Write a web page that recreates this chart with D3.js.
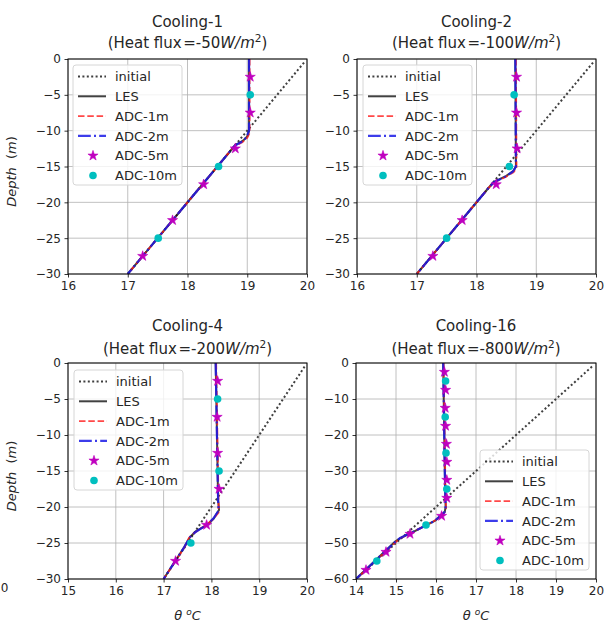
<!DOCTYPE html>
<html><head><meta charset="utf-8">
<script src="https://cdn.jsdelivr.net/npm/d3@7"></script>
<style>
body{margin:0;background:#fff}
svg{display:block}
text{font-family:"DejaVu Sans",sans-serif;fill:#262626}
</style>
</head><body>
<svg id="chart" width="605" height="625"></svg>
<script>
// ---------------- DATA ----------------
const panelNames = ["Cooling-1", "Cooling-2", "Cooling-4", "Cooling-16"];
const heatFlux = ["-50", "-100", "-200", "-800"];
const xDomains = [[16, 20], [16, 20], [15, 20], [14, 20]];
const yDomains = [[-30, 0], [-30, 0], [-30, 0], [-60, 0]];
const xTickValues = [[16, 17, 18, 19, 20], [16, 17, 18, 19, 20], [15, 16, 17, 18, 19, 20], [14, 15, 16, 17, 18, 19, 20]];
const yTickValues = [[0, -5, -10, -15, -20, -25, -30], [0, -5, -10, -15, -20, -25, -30], [0, -5, -10, -15, -20, -25, -30], [0, -10, -20, -30, -40, -50, -60]];
const legendNames = ["initial", "LES", "ADC-1m", "ADC-2m", "ADC-5m", "ADC-10m"];

// initial profiles
const initDepth = [[-0.5, -30], [-0.5, -30], [-0.5, -30], [-1, -60]];
const initTemp = [[19.95, 17.0], [19.95, 17.0], [19.95, 17.0], [19.9, 14.0]];

// LES profiles
const les1Depth = [0, -10, -10.8, -11.4, -12, -30];
const les1Temp = [19.03, 19.03, 19.0, 18.93, 18.8, 17.0];
const les2Depth = [0, -15, -15.6, -16.3, -17.1, -18, -30];
const les2Temp = [18.65, 18.66, 18.62, 18.5, 18.3, 18.2, 17.0];
const les3Depth = [0, -19, -20.4, -21.6, -22.5, -23.4, -24.2, -25.6, -30];
const les3Temp = [18.09, 18.14, 18.16, 18.05, 17.91, 17.67, 17.55, 17.43, 17.0];
const les4Depth = [0, -30, -40, -41.3, -43.8, -46.4, -48.7, -49.6, -60];
const les4Temp = [16.18, 16.22, 16.24, 16.22, 15.98, 15.52, 15.1, 14.98, 14.0];

// ADC-1m profiles
const adc1m1Depth = [0, -10.3, -11, -11.6, -12.2, -30];
const adc1m1Temp = [19.04, 19.04, 19.0, 18.92, 18.78, 17.0];
const adc1m2Depth = [0, -15.2, -15.8, -16.5, -17.3, -18.1, -30];
const adc1m2Temp = [18.66, 18.67, 18.62, 18.48, 18.28, 18.19, 17.0];
const adc1m3Depth = [0, -19.5, -20.8, -21.8, -22.6, -23.6, -24.3, -25.7, -30];
const adc1m3Temp = [18.1, 18.15, 18.15, 18.02, 17.86, 17.64, 17.53, 17.43, 17.0];
const adc1m4Depth = [0, -30, -40.5, -41.8, -44, -46.6, -48.8, -49.8, -60];
const adc1m4Temp = [16.19, 16.23, 16.25, 16.2, 15.94, 15.48, 15.08, 14.99, 14.0];

// ADC-2m profiles
const adc2m1Depth = [0, -10, -10.9, -11.5, -12.1, -30];
const adc2m1Temp = [19.03, 19.03, 18.99, 18.92, 18.79, 17.0];
const adc2m2Depth = [0, -15, -15.7, -16.4, -17.2, -18, -30];
const adc2m2Temp = [18.65, 18.66, 18.61, 18.49, 18.29, 18.2, 17.0];
const adc2m3Depth = [0, -19, -20.5, -21.6, -22.5, -23.5, -24.2, -25.6, -30];
const adc2m3Temp = [18.09, 18.14, 18.15, 18.04, 17.9, 17.66, 17.55, 17.43, 17.0];
const adc2m4Depth = [0, -30, -40, -41.5, -43.9, -46.5, -48.7, -49.7, -60];
const adc2m4Temp = [16.18, 16.22, 16.24, 16.21, 15.96, 15.5, 15.09, 14.98, 14.0];

// ADC-5m markers
const adc5mDepth30 = [-2.5, -7.5, -12.5, -17.5, -22.5, -27.5];
const adc5mDepth60 = [-2.5, -7.5, -12.5, -17.5, -22.5, -27.5, -32.5, -37.5, -42.5, -47.5, -52.5, -57.5];
const adc5m1Temp = [19.05, 19.05, 18.8, 18.27, 17.75, 17.25];
const adc5m2Temp = [18.67, 18.67, 18.68, 18.33, 17.76, 17.27];
const adc5m3Temp = [18.13, 18.12, 18.13, 18.16, 17.9, 17.25];
const adc5m4Temp = [16.21, 16.24, 16.23, 16.24, 16.26, 16.27, 16.27, 16.27, 16.14, 15.35, 14.75, 14.25];

// ADC-10m markers
const adc10mDepth30 = [-5, -15, -25];
const adc10mDepth60 = [-5, -15, -25, -35, -45, -55];
const adc10m1Temp = [19.05, 18.52, 17.51];
const adc10m2Temp = [18.63, 18.55, 17.5];
const adc10m3Temp = [18.13, 18.16, 17.57];
const adc10m4Temp = [16.24, 16.23, 16.25, 16.27, 15.75, 14.52];

// ---------------- LAYOUT ----------------
const panels = [
  {x0: 68, x1: 307, y0: 59, y1: 274, lg: [73, 65], ylab: true, xlab: false, t1: 26.5, t2: 47.5},
  {x0: 357, x1: 596, y0: 59, y1: 274, lg: [363, 65], ylab: false, xlab: false, t1: 26.5, t2: 47.5},
  {x0: 68, x1: 307, y0: 363, y1: 579, lg: [74, 370], ylab: true, xlab: true, t1: 330.5, t2: 354},
  {x0: 356, x1: 596, y0: 363, y1: 579, lg: [480, 450], ylab: false, xlab: true, t1: 330.5, t2: 354}
];
const lines = [
  [initDepth[0], initTemp[0], les1Depth, les1Temp, adc1m1Depth, adc1m1Temp, adc2m1Depth, adc2m1Temp, adc5mDepth30, adc5m1Temp, adc10mDepth30, adc10m1Temp],
  [initDepth[1], initTemp[1], les2Depth, les2Temp, adc1m2Depth, adc1m2Temp, adc2m2Depth, adc2m2Temp, adc5mDepth30, adc5m2Temp, adc10mDepth30, adc10m2Temp],
  [initDepth[2], initTemp[2], les3Depth, les3Temp, adc1m3Depth, adc1m3Temp, adc2m3Depth, adc2m3Temp, adc5mDepth30, adc5m3Temp, adc10mDepth30, adc10m3Temp],
  [initDepth[3], initTemp[3], les4Depth, les4Temp, adc1m4Depth, adc1m4Temp, adc2m4Depth, adc2m4Temp, adc5mDepth60, adc5m4Temp, adc10mDepth60, adc10m4Temp]
];

const styles = {
  initial: {stroke: "#2a2a2a", width: 2, dash: "2,2.4", opacity: 0.9},
  les: {stroke: "#111", width: 2, dash: null, opacity: 0.8},
  adc1: {stroke: "#ff1a1a", width: 1.8, dash: "6.5,2.8", opacity: 0.8},
  adc2: {stroke: "#1a1ae6", width: 2.2, dash: "12.8,3.2,2,3.2", opacity: 0.85}
};
const starColor = "#bf00bf", circColor = "#00bfbf";
const fmt = v => (v < 0 ? "\u2212" + Math.abs(v) : String(v));

const svg = d3.select("#chart");

panels.forEach((p, i) => {
  const x = d3.scaleLinear().domain(xDomains[i]).range([p.x0, p.x1]);
  const y = d3.scaleLinear().domain(yDomains[i]).range([p.y1, p.y0]);
  const g = svg.append("g");
  const clipId = "clip" + i;
  svg.append("clipPath").attr("id", clipId).append("rect")
    .attr("x", p.x0).attr("y", p.y0).attr("width", p.x1 - p.x0).attr("height", p.y1 - p.y0);

  // grid
  g.selectAll(".gx").data(xTickValues[i]).enter().append("line")
    .attr("x1", d => x(d)).attr("x2", d => x(d)).attr("y1", p.y0).attr("y2", p.y1)
    .attr("stroke", "#b0b0b0").attr("stroke-width", 0.8);
  g.selectAll(".gy").data(yTickValues[i]).enter().append("line")
    .attr("y1", d => y(d)).attr("y2", d => y(d)).attr("x1", p.x0).attr("x2", p.x1)
    .attr("stroke", "#b0b0b0").attr("stroke-width", 0.8);

  const L = lines[i];
  const pg = g.append("g").attr("clip-path", `url(#${clipId})`);
  const lineGen = d3.line().x(d => x(d[1])).y(d => y(d[0]));
  const st = [styles.initial, styles.les, styles.adc1, styles.adc2];
  for (let k = 0; k < 4; k++) {
    const dep = L[2 * k], tmp = L[2 * k + 1];
    const pts = dep.map((d, j) => [d, tmp[j]]);
    pg.append("path").datum(pts).attr("d", lineGen)
      .attr("fill", "none").attr("stroke", st[k].stroke).attr("stroke-width", st[k].width)
      .attr("stroke-dasharray", st[k].dash).attr("stroke-opacity", st[k].opacity)
      .attr("stroke-linejoin", "round");
  }
  // stars
  const star = d3.symbol().type(d3.symbolStar).size(32);
  const sDep = L[8], sTmp = L[9];
  g.selectAll(".st").data(sDep.map((d, j) => [d, sTmp[j]])).enter().append("path")
    .attr("d", star).attr("transform", d => `translate(${x(d[1])},${y(d[0])})`)
    .attr("fill", starColor).attr("stroke", starColor).attr("stroke-width", 0.6);
  const cDep = L[10], cTmp = L[11];
  g.selectAll(".ci").data(cDep.map((d, j) => [d, cTmp[j]])).enter().append("circle")
    .attr("cx", d => x(d[1])).attr("cy", d => y(d[0])).attr("r", 3.8)
    .attr("fill", circColor);

  // spines
  g.append("rect").attr("x", p.x0).attr("y", p.y0).attr("width", p.x1 - p.x0).attr("height", p.y1 - p.y0)
    .attr("fill", "none").attr("stroke", "#000").attr("stroke-width", 1);

  // axes
  const ax = g.append("g").attr("transform", `translate(0,${p.y1})`)
    .call(d3.axisBottom(x).tickValues(xTickValues[i]).tickSize(3.5).tickPadding(3.5).tickFormat(fmt));
  const ay = g.append("g").attr("transform", `translate(${p.x0},0)`)
    .call(d3.axisLeft(y).tickValues(yTickValues[i]).tickSize(3.5).tickPadding(3.5).tickFormat(fmt));
  [ax, ay].forEach(a => {
    a.select(".domain").remove();
    a.selectAll("line").attr("stroke", "#000").attr("stroke-width", 0.8);
    a.selectAll("text").attr("font-size", 12).attr("font-family", "DejaVu Sans").attr("fill", "#262626");
  });

  // titles
  const cx = (p.x0 + p.x1) / 2;
  g.append("text").attr("x", cx).attr("y", p.t1).attr("text-anchor", "middle")
    .attr("font-size", 15).text(panelNames[i]);
  const t2 = g.append("text").attr("x", cx).attr("y", p.t2).attr("text-anchor", "middle").attr("font-size", 15);
  t2.append("tspan").text("(Heat flux\u200a=" + heatFlux[i]);
  t2.append("tspan").attr("font-style", "italic").text("W/m");
  t2.append("tspan").attr("font-size", 10.5).attr("dy", -6).text("2");
  t2.append("tspan").attr("dy", 6).text(")");

  if (p.ylab) {
    const yl = g.append("text").attr("transform", `translate(16,${(p.y0 + p.y1) / 2 + 5}) rotate(-90)`)
      .attr("text-anchor", "middle").attr("font-size", 13);
    yl.append("tspan").attr("font-style", "italic").text("Depth");
    yl.append("tspan").text("\u00a0\u00a0(");
    yl.append("tspan").attr("font-style", "italic").text("m");
    yl.append("tspan").text(")");
  }
  if (p.xlab) {
    const xl = g.append("text").attr("x", cx).attr("y", 620).attr("text-anchor", "middle").attr("font-size", 13);
    xl.append("tspan").attr("font-style", "italic").text("\u03b8\u00a0");
    xl.append("tspan").attr("font-style", "italic").attr("font-size", 9).attr("dy", -5).text("o");
    xl.append("tspan").attr("font-style", "italic").attr("dy", 5).text("C");
  }

  // legend
  const lx = p.lg[0], ly = p.lg[1];
  const lg = g.append("g");
  lg.append("rect").attr("x", lx).attr("y", ly).attr("width", 109).attr("height", 120).attr("rx", 3)
    .attr("fill", "#fff").attr("fill-opacity", 0.8).attr("stroke", "#d6d6d6").attr("stroke-width", 1);
  legendNames.forEach((name, k) => {
    const ry = ly + 11.5 + k * 19.8;
    if (k < 4) {
      const s = st[k];
      lg.append("line").attr("x1", lx + 5).attr("x2", lx + 33).attr("y1", ry).attr("y2", ry)
        .attr("stroke", s.stroke).attr("stroke-width", s.width).attr("stroke-dasharray", s.dash)
        .attr("stroke-opacity", s.opacity);
    } else if (k === 4) {
      lg.append("path").attr("d", star).attr("transform", `translate(${lx + 20},${ry})`)
        .attr("fill", starColor).attr("stroke", starColor).attr("stroke-width", 0.6);
    } else {
      lg.append("circle").attr("cx", lx + 20).attr("cy", ry).attr("r", 3.8).attr("fill", circColor);
    }
    lg.append("text").attr("x", lx + 42).attr("y", ry).attr("dy", "0.36em").attr("font-size", 13).text(name);
  });
});

// neighbour tick label fragment at the far left edge
svg.append("text").attr("x", 4.5).attr("y", 592).attr("text-anchor", "middle").attr("font-size", 12).attr("fill", "#262626").text("0");
</script>
</body></html>
